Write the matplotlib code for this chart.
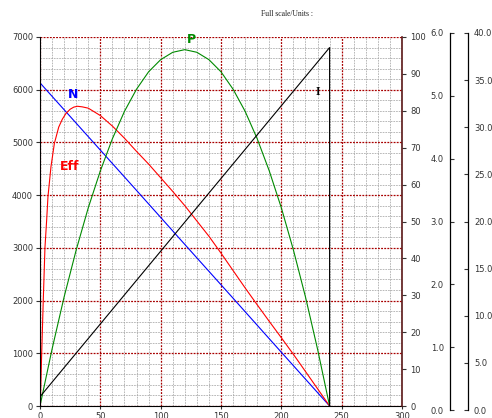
#!/usr/bin/env python3
"""Motor characteristic chart (N / Eff / P / I vs load)"""

import matplotlib
matplotlib.use('Agg')
import matplotlib.pyplot as plt
import matplotlib.ticker as ticker

plt.rcParams.update({
    'font.family': ['DejaVu Sans'],
    'font.size': 6,
    'xtick.labelsize': 6,
    'ytick.labelsize': 6,
    'xtick.color': '#333333',
    'ytick.color': '#333333',
})

# ── data (left-axis units) ───────────────────────────────────
load_n = [0, 40, 80, 120, 160, 200, 240]
speed_n = [6130, 5110, 4090, 3065, 2045, 1020, 0]

load_eff = [0, 0.5, 1.4, 2.7, 4.1, 5.5, 6.6, 9.1, 11.9, 15.5, 18.5, 21.5, 25, 28, 31, 35,
            40, 50, 60, 70, 80, 90, 100, 110, 120, 130, 140, 150, 160, 170, 180,
            190, 200, 210, 220, 230, 240]
eff = [0, 250, 1000, 2000, 3000, 3520, 3970, 4540, 4980, 5290, 5440, 5550, 5630, 5670, 5686, 5675,
       5650, 5510, 5310, 5080, 4830, 4590, 4330, 4070, 3800, 3510, 3220, 2900, 2570, 2240, 1920,
       1605, 1295, 980, 655, 328, 0]

load_p = [0, 10, 20, 30, 40, 50, 60, 70, 80, 90, 100, 110, 120,
          130, 140, 150, 160, 170, 180, 190, 200, 210, 220, 230, 240]
power_p = [0, 1080, 2070, 2960, 3760, 4460, 5070, 5590, 6010, 6340, 6570, 6710, 6760,
           6710, 6570, 6340, 6010, 5590, 5070, 4460, 3760, 2960, 2070, 1080, 0]

load_i = [0, 240, 240]
current_i = [176, 6800, 0]

C_N = '#0000ff'
C_EFF = '#ff0000'
C_P = '#008a00'
C_I = '#000000'

fig = plt.figure(figsize=(4.92, 4.18), dpi=100)
ax = fig.add_axes([40 / 492, 12 / 418, 362 / 492, 369 / 418])

ax.set_xlim(0, 300)
ax.set_ylim(0, 7000)
ax.xaxis.set_major_locator(ticker.MultipleLocator(50))
ax.xaxis.set_minor_locator(ticker.MultipleLocator(10))
ax.yaxis.set_major_locator(ticker.MultipleLocator(1000))
ax.yaxis.set_minor_locator(ticker.MultipleLocator(200))
ax.grid(True, which='minor', color='#a6a6a6', linestyle=(0, (2.2, 1.3)), linewidth=0.55)
ax.grid(True, which='major', color='#a80000', linestyle=(0, (1.5, 1)), linewidth=0.9)
ax.set_axisbelow(True)
ax.tick_params(which='minor', length=0)
ax.tick_params(axis='y', which='major', direction='out', length=3, width=0.8, pad=2)
ax.tick_params(axis='x', which='major', direction='out', length=2, width=0.8, pad=2.5)
ax.spines['top'].set_visible(False)
ax.spines['right'].set_visible(False)

ax.plot(load_n, speed_n, color=C_N, linewidth=0.8)
ax.plot(load_eff, eff, color=C_EFF, linewidth=0.8)
ax.plot(load_p, power_p, color=C_P, linewidth=0.8)
ax.plot(load_i, current_i, color=C_I, linewidth=0.8)

ax.text(27.6, 5900, 'N', color=C_N, fontsize=9, fontweight='bold', ha='center', va='center')
ax.text(24.9, 4550, 'Eff', color=C_EFF, fontsize=9, fontweight='bold', ha='center', va='center')
ax.text(125.7, 6950, 'P', color=C_P, fontsize=9, fontweight='bold', ha='center', va='center')
ax.text(230.6, 5950, 'I', color=C_I, fontsize=8.5, fontweight='bold', ha='center', va='center',
        family='Liberation Serif')

# right 0-100 scale
ax2 = ax.twinx()
ax2.set_ylim(0, 100)
ax2.yaxis.set_major_locator(ticker.MultipleLocator(10))
ax2.tick_params(axis='y', direction='out', length=3, width=0.8, pad=3)
for s in ['left', 'top', 'bottom']:
    ax2.spines[s].set_visible(False)
ax2.spines['right'].set_color('#5a1818')
ax2.spines['right'].set_linewidth(1.2)

# extra full-scale axes
ax3 = fig.add_axes([449.5 / 492, 8 / 418, 0.001, 377 / 418])
ax3.set_ylim(0, 6)
ax3.yaxis.set_major_locator(ticker.MultipleLocator(1))
ax3.yaxis.set_major_formatter(ticker.FormatStrFormatter('%.1f'))
ax3.set_xticks([])
ax3.patch.set_visible(False)
for s in ['right', 'top', 'bottom']:
    ax3.spines[s].set_visible(False)
ax3.spines['left'].set_linewidth(0.9)
ax3.tick_params(axis='y', direction='in', length=3, width=0.8, pad=4)

ax4 = fig.add_axes([467.2 / 492, 8 / 418, 0.001, 377 / 418])
ax4.set_ylim(0, 40)
ax4.yaxis.set_major_locator(ticker.MultipleLocator(5))
ax4.yaxis.set_major_formatter(ticker.FormatStrFormatter('%.1f'))
ax4.set_xticks([])
ax4.patch.set_visible(False)
for s in ['left', 'top', 'bottom']:
    ax4.spines[s].set_visible(False)
ax4.spines['right'].set_linewidth(0.9)
ax4.yaxis.tick_right()
ax4.tick_params(axis='y', direction='in', length=3, width=0.8, pad=4.5)

fig.text(287 / 492, 1 - 14 / 418, 'Full scale/Units :', family='Liberation Serif',
         fontsize=5.5, ha='center', va='center', color='#222222')

fig.savefig('out.png', dpi=100, facecolor='white')
